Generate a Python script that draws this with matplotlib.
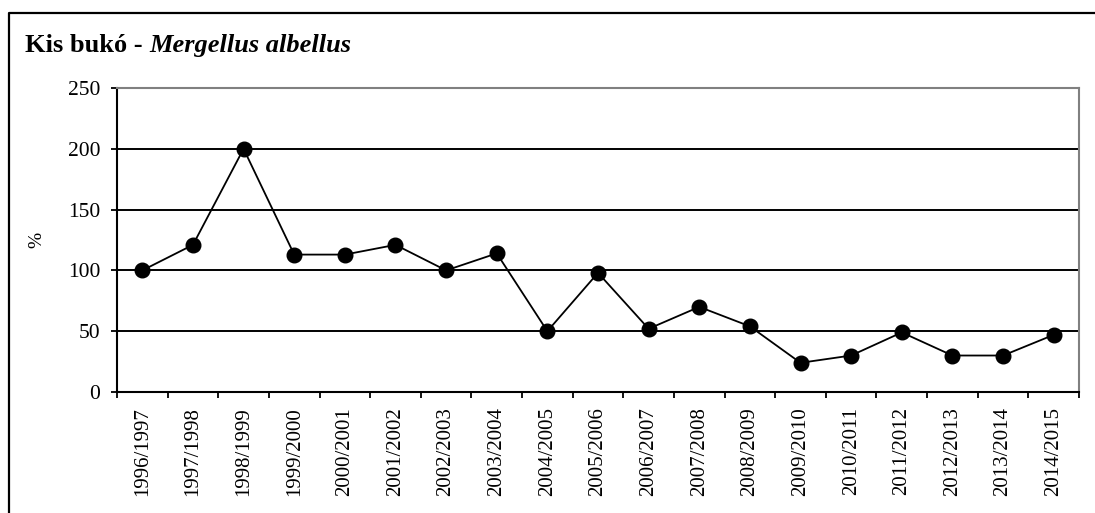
import matplotlib
matplotlib.use("Agg")
import matplotlib.pyplot as plt
from matplotlib.lines import Line2D

seasons = ["1996/1997", "1997/1998", "1998/1999", "1999/2000", "2000/2001",
           "2001/2002", "2002/2003", "2003/2004", "2004/2005", "2005/2006",
           "2006/2007", "2007/2008", "2008/2009", "2009/2010", "2010/2011",
           "2011/2012", "2012/2013", "2013/2014", "2014/2015"]
values = [100, 121, 200, 113, 113, 121, 100, 114, 50, 98,
          52, 70, 54, 24, 30, 49, 30, 30, 47]
yticks = [0, 50, 100, 150, 200, 250]

W, H = 1095, 513
fig = plt.figure(figsize=(W / 100, H / 100), dpi=100)
plt.rcParams['font.family'] = ['Liberation Serif', 'DejaVu Serif']

ax = fig.add_axes([117 / W, 1 - 392 / H, (1079 - 117) / W, (392 - 88) / H])
x = list(range(len(seasons)))
ax.plot(x, values, color='black', lw=1.3, marker='o', markersize=10.5,
        markerfacecolor='black', markeredgecolor='black', zorder=3)

ax.set_xlim(-0.5, len(seasons) - 0.5)
ax.set_ylim(0, 250)
ax.set_yticks(yticks)
ax.set_yticklabels([str(v) for v in yticks], fontsize=15.5)
for v in yticks[1:-1]:
    ax.axhline(v, color='black', lw=1.4, zorder=1)

ax.set_xticks(x)
ax.set_xticklabels(seasons, rotation=90, fontsize=15, va='top', ha='center')
ax.set_xticks([i - 0.5 for i in range(len(seasons) + 1)], minor=True)
ax.tick_params(axis='x', which='major', length=0, pad=11)
ax.tick_params(axis='x', which='minor', length=4, width=1.3, direction='out', color='black')
ax.tick_params(axis='y', length=4, width=1.3, direction='out', pad=8)

for s in ['left', 'bottom']:
    ax.spines[s].set_color('black')
    ax.spines[s].set_linewidth(1.5)
for s in ['top', 'right']:
    ax.spines[s].set_color('#808080')
    ax.spines[s].set_linewidth(1.5)

fig.text(37 / W, 1 - 240 / H, '%', rotation=90, fontsize=14, ha='center', va='center')

t1 = fig.text(25 / W, 1 - 52 / H, 'Kis bukó - ', fontsize=19, fontweight='bold',
              ha='left', va='baseline')
fig.canvas.draw()
bb = t1.get_window_extent(renderer=fig.canvas.get_renderer())
fig.text(bb.x1 / W, 1 - 52 / H, 'Mergellus albellus', fontsize=19, fontweight='bold',
         fontstyle='italic', ha='left', va='baseline')

fig.add_artist(Line2D([8.5 / W, 8.5 / W, 1.0], [0, 1 - 13 / H, 1 - 13 / H],
                      color='black', lw=1.6, transform=fig.transFigure))

fig.savefig('out.png', dpi=100, facecolor='white')
